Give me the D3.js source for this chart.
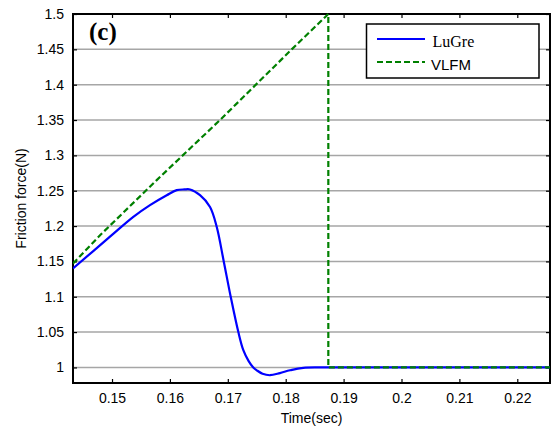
<!DOCTYPE html>
<html>
<head>
<meta charset="utf-8">
<script src="https://cdn.jsdelivr.net/npm/d3@7"></script>
<style>
  html, body { margin: 0; padding: 0; background: #fff; }
  svg { display: block; }
</style>
</head>
<body>
<svg id="chart" width="558" height="428"></svg>
<script>
// Friction force responses of the LuGre and VLFM models
const lugreTime = [0.14326, 0.14965, 0.15368, 0.15656, 0.15945, 0.16117, 0.1625,
  0.16347, 0.1652, 0.16693, 0.16808, 0.1693, 0.1705, 0.17182, 0.17268, 0.1736, 0.1744, 0.1750,
  0.1760, 0.17729, 0.1790, 0.18074, 0.18304, 0.18736, 0.2257];
const lugreForce = [1.140, 1.185, 1.213, 1.2296, 1.2437, 1.2508, 1.2518,
  1.2518, 1.2437, 1.227, 1.199, 1.150, 1.100, 1.050, 1.0245, 1.009, 1.000, 0.996,
  0.991, 0.989, 0.992, 0.996, 0.9995, 1.000, 1.000];

const vlfmTime = [0.14326, 0.14793, 0.15772, 0.16865, 0.18104, 0.18736, 0.18736, 0.2257];
const vlfmForce = [1.147, 1.187, 1.265, 1.350, 1.450, 1.500, 1.000, 1.000];

const xTicks = [0.15, 0.16, 0.17, 0.18, 0.19, 0.2, 0.21, 0.22];
const yTicks = [1, 1.05, 1.1, 1.15, 1.2, 1.25, 1.3, 1.35, 1.4, 1.45, 1.5];
const xDomain = [0.14326, 0.22565];
const yDomain = [0.978, 1.5];

const seriesNames = ["LuGre", "VLFM"];
const panelLabel = "(c)";
const xTitle = "Time(sec)";
const yTitle = "Friction force(N)";

const svg = d3.select("#chart");
const m = { left: 73, right: 8, top: 14, bottom: 45 };
const W = 558, H = 428;
const x = d3.scaleLinear().domain(xDomain).range([m.left, W - m.right]);
const y = d3.scaleLinear().domain(yDomain).range([H - m.bottom, m.top]);

const fmt = d => String(+d.toFixed(2));

// horizontal grid
svg.append("g")
  .selectAll("line").data(yTicks).join("line")
  .attr("x1", x.range()[0]).attr("x2", x.range()[1])
  .attr("y1", d => y(d)).attr("y2", d => y(d))
  .attr("stroke", "#a6a6a6").attr("stroke-width", 1.5);

const tickLen = 4;
const styleAxis = g => {
  g.select(".domain").remove();
  g.selectAll(".tick line").attr("stroke", "#000").attr("stroke-width", 1.2);
  g.selectAll(".tick text").attr("font-family", "Liberation Sans, Arial, sans-serif")
    .attr("font-size", 14).attr("fill", "#000");
};

svg.append("g").attr("transform", `translate(0,${y.range()[0]})`)
  .call(d3.axisBottom(x).tickValues(xTicks).tickFormat(fmt).tickSizeInner(-tickLen).tickSizeOuter(0).tickPadding(10))
  .call(styleAxis);
svg.append("g").attr("transform", `translate(0,${y.range()[1]})`)
  .call(d3.axisTop(x).tickValues(xTicks).tickFormat("").tickSizeInner(-tickLen).tickSizeOuter(0))
  .call(styleAxis);
svg.append("g").attr("transform", `translate(${x.range()[0]},0)`)
  .call(d3.axisLeft(y).tickValues(yTicks).tickFormat(fmt).tickSizeInner(-tickLen).tickSizeOuter(0).tickPadding(9))
  .call(styleAxis);
svg.append("g").attr("transform", `translate(${x.range()[1]},0)`)
  .call(d3.axisRight(y).tickValues(yTicks).tickFormat("").tickSizeInner(-tickLen).tickSizeOuter(0))
  .call(styleAxis);

// plot frame
svg.append("rect")
  .attr("x", x.range()[0]).attr("y", y.range()[1])
  .attr("width", x.range()[1] - x.range()[0]).attr("height", y.range()[0] - y.range()[1])
  .attr("fill", "none").attr("stroke", "#000").attr("stroke-width", 2);

svg.append("clipPath").attr("id", "plotClip").append("rect")
  .attr("x", x.range()[0]).attr("y", y.range()[1] - 2)
  .attr("width", x.range()[1] - x.range()[0]).attr("height", y.range()[0] - y.range()[1] + 2);

const plot = svg.append("g").attr("clip-path", "url(#plotClip)");

plot.append("path")
  .datum(d3.zip(lugreTime, lugreForce))
  .attr("d", d3.line().x(d => x(d[0])).y(d => y(d[1])).curve(d3.curveCatmullRom.alpha(0.5)))
  .attr("fill", "none")
  .attr("stroke", "#0000ff").attr("stroke-width", 2.2).attr("stroke-linejoin", "round");

plot.append("path")
  .datum(d3.zip(vlfmTime, vlfmForce))
  .attr("d", d3.line().x(d => x(d[0])).y(d => y(d[1])))
  .attr("fill", "none")
  .attr("stroke", "#008000").attr("stroke-width", 2.2).attr("stroke-dasharray", "6,3");

// panel label
svg.append("text").attr("x", 89).attr("y", 40)
  .attr("font-family", "Liberation Serif, Times New Roman, serif").attr("font-weight", "bold")
  .attr("font-size", 25).text(panelLabel);

// legend
const lg = svg.append("g");
lg.append("rect").attr("x", 366.5).attr("y", 24).attr("width", 172.5).attr("height", 54)
  .attr("fill", "#fff").attr("stroke", "#000").attr("stroke-width", 1.5);
lg.append("line").attr("x1", 377).attr("x2", 425).attr("y1", 39).attr("y2", 39)
  .attr("stroke", "#0000ff").attr("stroke-width", 2.2);
lg.append("line").attr("x1", 377).attr("x2", 425).attr("y1", 62).attr("y2", 62)
  .attr("stroke", "#008000").attr("stroke-width", 2.2).attr("stroke-dasharray", "6,3");
lg.append("text").attr("x", 432.5).attr("y", 46.5)
  .attr("font-family", "Liberation Serif, Times New Roman, serif").attr("font-size", 16)
  .text(seriesNames[0]);
lg.append("text").attr("x", 431).attr("y", 70)
  .attr("font-family", "Liberation Sans, Arial, sans-serif").attr("font-size", 15)
  .text(seriesNames[1]);

// axis titles
svg.append("text").attr("x", (x.range()[0] + x.range()[1]) / 2).attr("y", 423)
  .attr("text-anchor", "middle").attr("font-family", "Liberation Sans, Arial, sans-serif")
  .attr("font-size", 14).text(xTitle);
svg.append("text")
  .attr("transform", `translate(26,${(y.range()[0] + y.range()[1]) / 2}) rotate(-90)`)
  .attr("text-anchor", "middle").attr("font-family", "Liberation Sans, Arial, sans-serif")
  .attr("font-size", 14).text(yTitle);
</script>
</body>
</html>
